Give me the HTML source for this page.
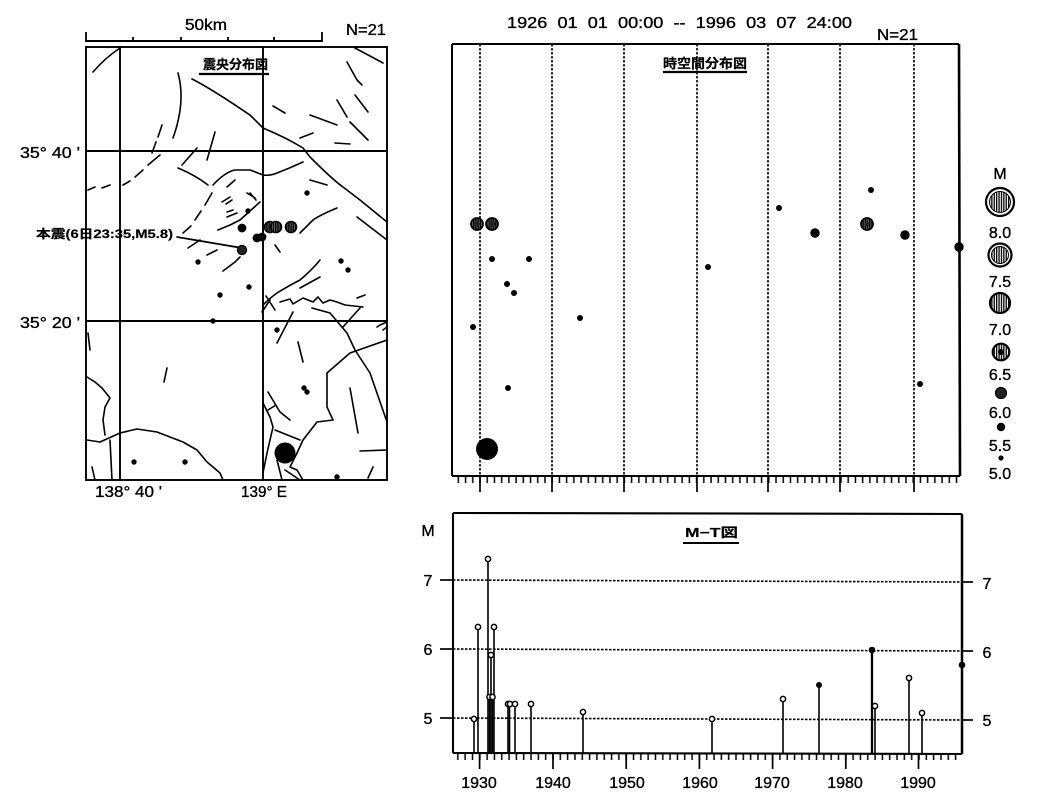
<!DOCTYPE html>
<html><head><meta charset="utf-8"><style>
html,body{margin:0;padding:0;background:#fff;}
svg{display:block;}
text{font-family:"Liberation Sans","Noto Sans CJK JP",sans-serif;fill:#000;stroke:#000;stroke-width:0.35;}
.jp{font-family:"Liberation Sans","Noto Sans CJK JP",sans-serif;font-weight:bold;stroke-width:0.2;}
</style></head><body>
<svg width="1040" height="812" viewBox="0 0 1040 812" xmlns="http://www.w3.org/2000/svg">
<defs>
<pattern id="vs" x="0" y="0" width="2.4" height="10" patternUnits="userSpaceOnUse"><rect x="0" y="0" width="2.4" height="10" fill="#fff"/><rect x="0" y="0" width="1.3" height="10" fill="#000"/></pattern>
<pattern id="vs2" x="0" y="0" width="2.2" height="10" patternUnits="userSpaceOnUse"><rect x="0" y="0" width="2.2" height="10" fill="#888"/><rect x="0" y="0" width="1.5" height="10" fill="#000"/></pattern>
<pattern id="tk1" x="479" y="476" width="7.22" height="8" patternUnits="userSpaceOnUse"><line x1="1" y1="0" x2="1" y2="8" stroke="#000" stroke-width="1.5"/></pattern>
<pattern id="tk2" x="552" y="753" width="7.32" height="8" patternUnits="userSpaceOnUse"><line x1="1" y1="0" x2="1" y2="8" stroke="#000" stroke-width="1.5"/></pattern>
<clipPath id="mapclip"><rect x="86" y="47" width="301" height="433"/></clipPath>
</defs>
<rect width="1040" height="812" fill="#fff"/>

<!-- ================= MAP ================= -->
<g stroke="#000" fill="none" stroke-width="1.8">
<line x1="86" y1="41" x2="322" y2="41" stroke-width="1.9"/>
<line x1="86" y1="32" x2="86" y2="42"/>
<line x1="322" y1="32" x2="322" y2="42"/>
<line x1="133" y1="37" x2="133" y2="42"/>
<line x1="181" y1="37" x2="181" y2="42"/>
<line x1="228" y1="37" x2="228" y2="42"/>
<line x1="274" y1="37" x2="274" y2="42"/>
</g>
<text x="185" y="30" font-size="16" textLength="42" lengthAdjust="spacingAndGlyphs">50km</text>
<text x="346" y="35" font-size="16" textLength="40" lengthAdjust="spacingAndGlyphs">N=21</text>

<g clip-path="url(#mapclip)" stroke="#000" fill="none" stroke-width="1.6" stroke-linecap="round" stroke-linejoin="round">
<path d="M120,48 Q105,58 93,72"/>
<path d="M192,79 C212,89 235,105 250,115 L263,128 C275,133 290,140 303,148 L310,157 C318,165 333,180 343,187 L360,200 L387,222"/>
<path d="M178,73 Q186,102 173,138"/>
<path d="M162,125 L158,137 M156,142 L152,153"/>
<path d="M215,132 L207,160"/>
<path d="M197,148 L182,165"/>
<path d="M160,155 L148,165 M143,170 L135,177 M130,181 L123,185"/>
<path d="M110,185 L102,188 M95,187 L88,190"/>
<path d="M178,168 Q195,175 208,185"/>
<path d="M213,185 Q225,172 235,170 L250,170 Q258,173 263,175 Q270,176 277,173 Q290,168 303,162"/>
<path d="M212,193 L205,205 M201,211 L195,220 M191,226 L183,233"/>
<path d="M235,180 L227,187"/>
<path d="M232,200 L226,204"/>
<path d="M250,193 L256,200"/>
<path d="M310,180 L327,185"/>
<path d="M337,208 Q320,215 313,220 L300,233"/>
<path d="M357,217 L387,240"/>
<path d="M355,48 L383,63"/>
<path d="M347,62 L357,80 L362,85"/>
<path d="M355,95 L368,112"/>
<path d="M273,106 L285,113"/>
<path d="M310,115 L337,125"/>
<path d="M337,100 L347,117 M350,122 L353,125 L368,140"/>
<path d="M300,138 L313,133"/>
<path d="M335,143 L350,144"/>
<path d="M188,248 L200,240"/>
<path d="M207,255 L217,250"/>
<path d="M223,271 L235,262 L240,257"/>
<path d="M218,230 L230,225 L240,220 L260,202"/>
<path d="M227,212 L233,210 M227,217 L237,213"/>
<path d="M222,202 L230,197"/>
<path d="M247,193 L255,198"/>
<path d="M275,245 L280,252"/>
<path d="M263,305 Q270,298 277,293 Q290,285 300,280 Q312,270 320,260"/>
<path d="M300,288 L320,277"/>
<path d="M280,302 L290,299 L293,304 L303,298 L313,302 L318,297 L323,303 L330,300 L337,302 L345,305 L363,307"/>
<path d="M357,298 L365,295"/>
<path d="M360,308 L343,327"/>
<path d="M312,308 L330,313 L347,333 L355,350 L370,373 L387,422"/>
<path d="M327,373 L350,353 L387,340"/>
<path d="M327,373 L327,407 L333,420 L317,422 L303,440 L297,453 L290,467 L297,470 L303,480"/>
<path d="M350,388 L358,433"/>
<path d="M298,342 L303,362"/>
<path d="M293,312 L277,343"/>
<path d="M360,451 L387,450"/>
<path d="M373,467 L368,478"/>
<path d="M377,327 L380,325 L387,322 M383,330 L387,327"/>
<path d="M263,403 L270,417 L273,427 L270,440 L267,453 L263,473"/>
<path d="M268,392 L280,412 L290,420 M275,430 L300,440 M285,470 L300,480 M277,460 L282,480 M268,410 L276,405 M270,300 L262,312 M266,296 L275,310"/>
<path d="M87,377 L95,382 L102,388 L110,398 L105,407 L103,420 L105,435"/>
<path d="M87,440 L100,442 L120,433 L137,429 L157,432 L183,442 L197,450 L207,462 L213,467 L220,473 L223,480"/>
<path d="M110,440 L112,480"/>
<path d="M92,467 L95,480"/>
<path d="M167,368 L164,382"/>
<path d="M88,333 L90,350"/>
<path d="M177,237 L242,248" stroke-width="1.7"/>
</g>
<!-- map frame and grid -->
<g stroke="#000" fill="none" stroke-width="1.9">
<rect x="86" y="47" width="301" height="433"/>
<line x1="86" y1="151" x2="387" y2="151"/>
<line x1="86" y1="321" x2="387" y2="321"/>
<line x1="120" y1="47" x2="120" y2="480"/>
<line x1="263" y1="47" x2="263" y2="480"/>
</g>
<!-- map events -->
<g fill="#000">
<circle cx="248" cy="211" r="2.7"/><circle cx="307" cy="193" r="2.7"/><circle cx="198" cy="262" r="2.7"/>
<circle cx="341" cy="261" r="2.7"/><circle cx="348" cy="270" r="2.7"/><circle cx="249" cy="287" r="2.7"/>
<circle cx="220" cy="295" r="2.7"/><circle cx="213" cy="321" r="2.7"/><circle cx="277" cy="330" r="2.7"/>
<circle cx="304" cy="388" r="2.7"/><circle cx="307" cy="392" r="2.7"/><circle cx="134" cy="462" r="2.7"/>
<circle cx="185" cy="462" r="2.7"/><circle cx="337" cy="477" r="2.7"/>
<circle cx="242" cy="228" r="4.4"/><circle cx="257" cy="238" r="4.4"/><circle cx="262" cy="237" r="4.4"/>
<circle cx="285" cy="453" r="10.5"/>
</g>
<g stroke="#000" stroke-width="1.6" fill="url(#vs2)">
<circle cx="270" cy="227" r="5.5"/><circle cx="276" cy="227" r="5.5"/><circle cx="291" cy="227" r="5.5"/>
</g>
<circle cx="242" cy="250" r="4.6" fill="#222" stroke="#000" stroke-width="1.2"/>
<text x="203" y="69" class="jp" font-size="13" textLength="65" lengthAdjust="spacingAndGlyphs">震央分布図</text>
<line x1="199" y1="74" x2="269" y2="74" stroke="#000" stroke-width="2.2"/>
<text x="36" y="238" class="jp" font-size="12" textLength="137" lengthAdjust="spacingAndGlyphs">本震(6日23:35,M5.8)</text>
<text x="20" y="158" font-size="16" textLength="60" lengthAdjust="spacingAndGlyphs" style="white-space:pre">35° 40 '</text>
<text x="20" y="328" font-size="16" textLength="60" lengthAdjust="spacingAndGlyphs" style="white-space:pre">35° 20 '</text>
<text x="95" y="497" font-size="16" textLength="67" lengthAdjust="spacingAndGlyphs" style="white-space:pre">138° 40 '</text>
<text x="241" y="497" font-size="16" textLength="46" lengthAdjust="spacingAndGlyphs">139° E</text>

<!-- ================= SPACE-TIME ================= -->
<text x="507" y="28" font-size="16" textLength="345" lengthAdjust="spacingAndGlyphs" style="white-space:pre">1926  01  01  00:00  --  1996  03  07  24:00</text>
<text x="877" y="40" font-size="16" textLength="41" lengthAdjust="spacingAndGlyphs">N=21</text>
<g stroke="#000" stroke-width="1.6" stroke-dasharray="2.5 1.5" fill="none">
<line x1="480" y1="44" x2="480" y2="476"/><line x1="552" y1="44" x2="552" y2="476"/>
<line x1="624" y1="44" x2="624" y2="476"/><line x1="697" y1="44" x2="697" y2="476"/>
<line x1="768" y1="44" x2="768" y2="476"/><line x1="840" y1="44" x2="840" y2="476"/>
<line x1="914" y1="44" x2="914" y2="476"/>
</g>
<rect x="453" y="476" width="506" height="7" fill="url(#tk1)"/>
<g stroke="#000" stroke-width="1.7">
<line x1="480" y1="476" x2="480" y2="492"/><line x1="552" y1="476" x2="552" y2="492"/>
<line x1="624" y1="476" x2="624" y2="492"/><line x1="697" y1="476" x2="697" y2="492"/>
<line x1="768" y1="476" x2="768" y2="492"/><line x1="840" y1="476" x2="840" y2="492"/>
<line x1="914" y1="476" x2="914" y2="492"/>
</g>
<g stroke="#000" fill="none">
<line x1="452" y1="44" x2="959" y2="44" stroke-width="2"/>
<line x1="452" y1="44" x2="452" y2="476" stroke-width="2"/>
<line x1="452" y1="476" x2="960" y2="476" stroke-width="2"/>
<line x1="959" y1="44" x2="960" y2="476" stroke-width="2.6"/>
</g>
<text x="663" y="68" class="jp" font-size="13" textLength="84" lengthAdjust="spacingAndGlyphs">時空間分布図</text>
<line x1="663" y1="72" x2="747" y2="72" stroke="#000" stroke-width="2.2"/>
<!-- points -->
<g fill="#000">
<circle cx="492" cy="259" r="3"/><circle cx="529" cy="259" r="3"/><circle cx="507" cy="284" r="3"/>
<circle cx="514" cy="293" r="3"/><circle cx="473" cy="327" r="3"/><circle cx="580" cy="318" r="3"/>
<circle cx="708" cy="267" r="3"/><circle cx="508" cy="388" r="3"/><circle cx="779" cy="208" r="3"/>
<circle cx="871" cy="190" r="3"/><circle cx="920" cy="384" r="3"/>
<circle cx="815" cy="233" r="4.7"/><circle cx="905" cy="235" r="4.7"/><circle cx="959" cy="247" r="4.7"/>
<circle cx="487" cy="449" r="11"/>
</g>
<g stroke="#000" stroke-width="1.8" fill="url(#vs2)">
<circle cx="477" cy="224" r="6"/><circle cx="492" cy="224" r="6"/><circle cx="867" cy="224" r="6"/>
</g>
<g fill="#222"><circle cx="477" cy="224" r="2.5"/><circle cx="492" cy="224" r="3.2"/><circle cx="867" cy="224" r="2.5"/></g>

<!-- legend -->
<text x="1000" y="179" font-size="16" text-anchor="middle">M</text>
<g stroke="#000">
<circle cx="1000" cy="202" r="14" fill="#fff" stroke-width="2.2"/>
<circle cx="1000" cy="202" r="10.5" fill="url(#vs)" stroke-width="1"/>
<circle cx="1000" cy="255" r="11.5" fill="#fff" stroke-width="2.2"/>
<circle cx="1000" cy="255" r="8.5" fill="url(#vs)" stroke-width="1"/>
<circle cx="1000" cy="303" r="10" fill="url(#vs)" stroke-width="2.2"/>
<circle cx="1001" cy="352" r="8.3" fill="url(#vs)" stroke-width="2.2"/>
<circle cx="1001" cy="352" r="3" fill="#000" stroke="none"/>
<circle cx="1001" cy="393" r="5.5" fill="#222" stroke-width="1.2"/>
</g>
<circle cx="1001" cy="427" r="4.2" fill="#000"/>
<circle cx="1001" cy="458" r="2.6" fill="#000"/>
<g font-size="16" text-anchor="middle">
<text x="1000" y="238">8.0</text><text x="1000" y="287">7.5</text><text x="1000" y="335">7.0</text>
<text x="1000" y="380">6.5</text><text x="1000" y="418">6.0</text><text x="1000" y="451">5.5</text>
<text x="1000" y="479">5.0</text>
</g>

<!-- ================= M-T ================= -->
<g stroke="#000" stroke-width="1.6" stroke-dasharray="2.5 1.5">
<line x1="453" y1="580" x2="962" y2="582"/>
<line x1="453" y1="649" x2="962" y2="651"/>
<line x1="453" y1="718" x2="962" y2="720"/>
</g>
<g stroke="#000" stroke-width="1.7">
<line x1="440" y1="580" x2="453" y2="580"/><line x1="440" y1="649" x2="453" y2="649"/><line x1="440" y1="718" x2="453" y2="718"/>
<line x1="962" y1="582" x2="973" y2="582"/><line x1="962" y1="651" x2="973" y2="651"/><line x1="962" y1="720" x2="973" y2="720"/>
</g>
<rect x="453" y="753" width="509" height="7" fill="url(#tk2)"/>
<g stroke="#000" stroke-width="1.7">
<line x1="479.6" y1="753" x2="479.6" y2="769"/><line x1="553" y1="753" x2="553" y2="769"/>
<line x1="626.2" y1="753" x2="626.2" y2="769"/><line x1="699.4" y1="753" x2="699.4" y2="769"/>
<line x1="772.6" y1="753" x2="772.6" y2="769"/><line x1="845.8" y1="753" x2="845.8" y2="769"/>
<line x1="918.5" y1="753" x2="918.5" y2="769"/>
</g>
<!-- stems -->
<g stroke="#000" stroke-width="1.6">
<line x1="474" y1="719" x2="474" y2="753"/>
<line x1="478" y1="627" x2="478" y2="753"/>
<line x1="488" y1="559" x2="488" y2="753"/>
<line x1="489.5" y1="697" x2="489.5" y2="753"/>
<line x1="491" y1="655" x2="491" y2="753"/>
<line x1="492.5" y1="697" x2="492.5" y2="753"/>
<line x1="494" y1="627" x2="494" y2="753"/>
<line x1="508" y1="704" x2="508" y2="753"/>
<line x1="509.5" y1="704" x2="509.5" y2="753"/>
<line x1="515" y1="704" x2="515" y2="753"/>
<line x1="531" y1="704" x2="531" y2="753"/>
<line x1="583" y1="712" x2="583" y2="753"/>
<line x1="712" y1="719" x2="712" y2="753"/>
<line x1="783" y1="699" x2="783" y2="753"/>
<line x1="819" y1="685" x2="819" y2="753"/>
<line x1="872" y1="650" x2="872" y2="753" stroke-width="2.3"/>
<line x1="875" y1="706" x2="875" y2="753"/>
<line x1="909" y1="678" x2="909" y2="753"/>
<line x1="922" y1="713" x2="922" y2="753"/>
</g>
<g stroke="#000" stroke-width="1.5" fill="#fff">
<circle cx="474" cy="719" r="2.6"/><circle cx="478" cy="627" r="2.6"/><circle cx="488" cy="559" r="2.6"/>
<circle cx="489.5" cy="697" r="2.6"/><circle cx="491" cy="655" r="2.6"/><circle cx="492.5" cy="697" r="2.6"/>
<circle cx="494" cy="627" r="2.6"/><circle cx="508" cy="704" r="2.6"/><circle cx="510" cy="704" r="2.6"/>
<circle cx="515" cy="704" r="2.6"/><circle cx="531" cy="704" r="2.6"/><circle cx="583" cy="712" r="2.6"/>
<circle cx="712" cy="719" r="2.6"/><circle cx="783" cy="699" r="2.6"/><circle cx="875" cy="706" r="2.6"/>
<circle cx="909" cy="678" r="2.6"/><circle cx="922" cy="713" r="2.6"/>
</g>
<g fill="#000"><circle cx="819" cy="685" r="3"/><circle cx="872" cy="650" r="3.3"/><circle cx="962" cy="665" r="3.3"/></g>
<!-- frame -->
<g stroke="#000" fill="none">
<line x1="453" y1="513" x2="962" y2="514" stroke-width="2.1"/>
<line x1="453" y1="513" x2="453" y2="753" stroke-width="2.1"/>
<line x1="453" y1="753" x2="962" y2="754" stroke-width="2.1"/>
<line x1="962" y1="514" x2="962" y2="754" stroke-width="2.5"/>
</g>
<text x="685" y="537" class="jp" font-size="13" textLength="53" lengthAdjust="spacingAndGlyphs">M−T図</text>
<line x1="683" y1="543" x2="739" y2="543" stroke="#000" stroke-width="2"/>
<g font-size="16" text-anchor="middle">
<text x="428" y="536">M</text>
<text x="428" y="586">7</text><text x="428" y="655">6</text><text x="428" y="724">5</text>
<text x="987" y="589">7</text><text x="987" y="658">6</text><text x="987" y="726">5</text>
</g>
<g font-size="16" text-anchor="middle">
<text x="479" y="788">1930</text><text x="553" y="788">1940</text><text x="627" y="788">1950</text>
<text x="700" y="788">1960</text><text x="772" y="788">1970</text><text x="845" y="788">1980</text>
<text x="918" y="788">1990</text>
</g>
</svg>
</body></html>
